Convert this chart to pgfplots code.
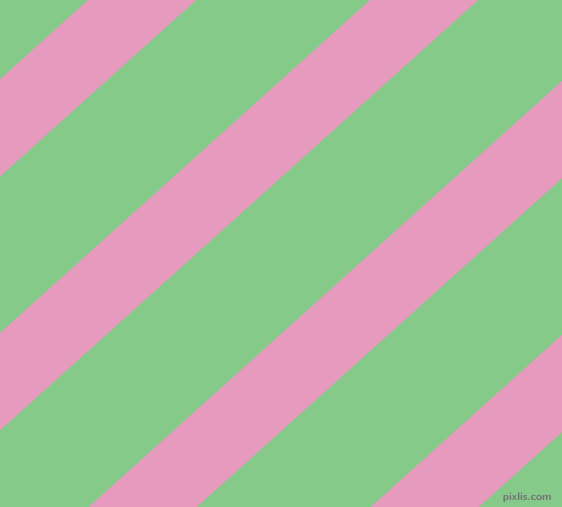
\documentclass[border=0pt]{standalone}
\usepackage{pgfplots}
\pgfplotsset{compat=1.18}
\definecolor{stripegreen}{RGB}{134,202,137}
\definecolor{stripepink}{RGB}{230,154,190}
\begin{document}
\begin{tikzpicture}
 \begin{axis}[
  scale only axis,
  width=7.8cm,
  height=7.0228cm,
  hide axis,
  xmin=0, xmax=562,
  ymin=0, ymax=506,
  y dir=reverse,
  clip=true]
  % background
  \addplot[fill=stripegreen, draw=none] coordinates {
   (-20,-20) (582,-20) (582,526) (-20,526)} -- cycle;
  % diagonal stripes, pixel coordinates (y down)
  \addplot[fill=stripepink, draw=none] coordinates {
   (108,-18) (-512,540) (-404,540) (216,-18)} -- cycle;
  \addplot[fill=stripepink, draw=none] coordinates {
   (390,-18) (-230,540) (-122,540) (498,-18)} -- cycle;
  \addplot[fill=stripepink, draw=none] coordinates {
   (672,-18) (52,540) (160,540) (780,-18)} -- cycle;
  \addplot[fill=stripepink, draw=none] coordinates {
   (954,-18) (334,540) (442,540) (1062,-18)} -- cycle;
  \node[anchor=south east, font=\sffamily\bfseries\fontsize{4.3}{4.3}\selectfont, text=black!55, inner sep=0pt]
   at (axis cs:552,503) {pixlis.com};
 \end{axis}
 \pgfresetboundingbox
 \path (current axis.south west) rectangle (current axis.north east);
\end{tikzpicture}
\end{document}
